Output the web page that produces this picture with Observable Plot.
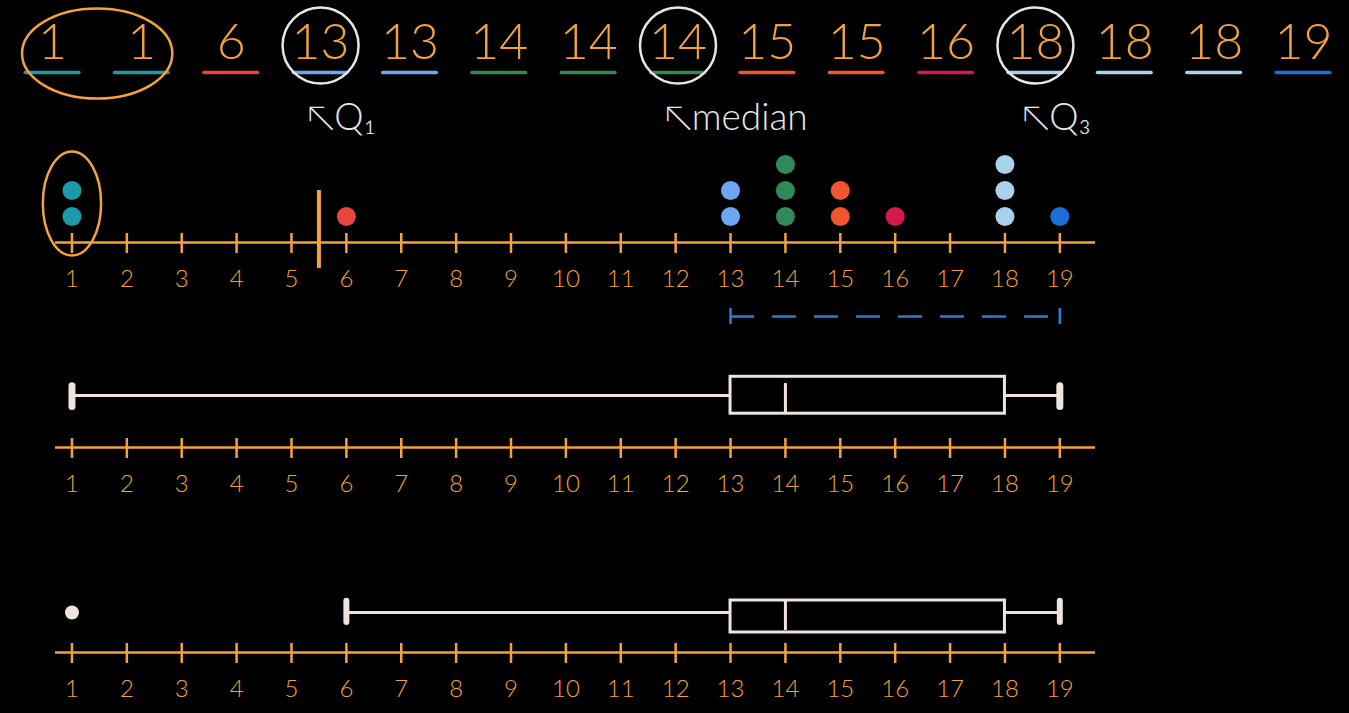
<!DOCTYPE html>
<html>
<head>
<meta charset="utf-8">
<script src="https://cdn.jsdelivr.net/npm/d3@7"></script>
<script src="https://cdn.jsdelivr.net/npm/@observablehq/plot@0.6"></script>
<style>
  html, body { margin: 0; padding: 0; background: #000; width: 1349px; height: 713px; overflow: hidden; }
  #chart svg { display: block; }
</style>
</head>
<body>
<div id="chart"></div>
<script>
// ---------------- data ----------------
const sortedValues = [1, 1, 6, 13, 13, 14, 14, 14, 15, 15, 16, 18, 18, 18, 19];
const tickLabels = [1, 2, 3, 4, 5, 6, 7, 8, 9, 10, 11, 12, 13, 14, 15, 16, 17, 18, 19];
const colorValues = [1, 6, 13, 14, 15, 16, 18, 19];
const colorPalette = ["#1d9aa8", "#e8453f", "#6ea6f2", "#2f8a58", "#f2562c", "#d4194e", "#a8d2ec", "#1b6fd6"];
const markerLabels = ["↖Q₁", "↖median", "↖Q₃"];

// ---------------- statistics derived from the data ----------------
const n = sortedValues.length;
const medianOf = a => a.length % 2 ? a[(a.length - 1) / 2] : (a[a.length / 2 - 1] + a[a.length / 2]) / 2;
const mid = Math.floor(n / 2);
const lowerHalf = sortedValues.slice(0, mid);
const upperHalf = sortedValues.slice(n % 2 ? mid + 1 : mid);
const q1 = medianOf(lowerHalf), med = medianOf(sortedValues), q3 = medianOf(upperHalf);
const q1Index = (lowerHalf.length - 1) / 2;
const medIndex = mid;
const q3Index = (n % 2 ? mid + 1 : mid) + (upperHalf.length - 1) / 2;
const iqr = q3 - q1;
const lowerFence = q1 - 1.5 * iqr, upperFence = q3 + 1.5 * iqr;
const minV = d3.min(sortedValues), maxV = d3.max(sortedValues);
const inliers = sortedValues.filter(v => v >= lowerFence && v <= upperFence);
const whiskerLow = d3.min(inliers), whiskerHigh = d3.max(inliers);
const outlierValues = Array.from(new Set(sortedValues.filter(v => v < lowerFence || v > upperFence)));
const outlierIdx = sortedValues.map((v, i) => (v < lowerFence || v > upperFence) ? i : null).filter(i => i !== null);

const rows = sortedValues.map((v, i) => ({i, v}));
const counts = {};
const dots = sortedValues.map(v => ({v, k: (counts[v] = (counts[v] || 0) + 1)}));
const outlierGroups = outlierValues.map(v => ({v, k: (counts[v] + 1) / 2}));
const markers = [q1Index, medIndex, q3Index].map((i, j) => ({i, label: markerLabels[j]}));

// ---------------- styling ----------------
const W = 1349;
const ORANGE = "#f3a23e";
const CREAM = "#efe4dd";
const WHITE = "#e6e6e6";
const BLUE = "#2b7fd4";
const FONT = "Lato, 'Open Sans', 'DejaVu Sans', sans-serif";
const baseStyle = {background: "transparent", overflow: "visible", fontFamily: FONT};
const colorScale = {type: "ordinal", domain: colorValues, range: colorPalette};
const xScale = {domain: [0.7, 19.65], axis: null};

// ellipse symbol (ratio = rx / ry)
const ellipse = ratio => ({
  draw(ctx, size) {
    const ry = Math.sqrt(size / Math.PI), rx = ry * ratio, k = 0.5523;
    ctx.moveTo(rx, 0);
    ctx.bezierCurveTo(rx, k * ry, k * rx, ry, 0, ry);
    ctx.bezierCurveTo(-k * rx, ry, -rx, k * ry, -rx, 0);
    ctx.bezierCurveTo(-rx, -k * ry, -k * rx, -ry, 0, -ry);
    ctx.bezierCurveTo(k * rx, -ry, rx, -k * ry, rx, 0);
    ctx.closePath();
  }
});

const numberLine = () => [
  Plot.ruleY([0], {stroke: ORANGE, strokeWidth: 2.5}),
  Plot.ruleX(tickLabels, {x: d => d, y1: 0, y2: 0, insetTop: -9, insetBottom: -11, stroke: ORANGE, strokeWidth: 2.5}),
  Plot.text(tickLabels, {x: d => d, y: 0, dy: 37, text: d => String(d), fill: ORANGE, fontSize: 24, fontWeight: 300})
];

// ---------------- panel A: sorted list ----------------
const panelA = Plot.plot({
  width: W, height: 150,
  marginTop: 0, marginBottom: 78, marginLeft: 52, marginRight: 46,
  x: {domain: [0, n - 1], axis: null},
  y: {domain: [0, 1], axis: null},
  color: colorScale,
  style: baseStyle,
  marks: [
    Plot.text(rows, {x: "i", y: 0, dy: -30, text: d => String(d.v), fill: ORANGE, fontSize: 50, fontWeight: 300}),
    Plot.ruleY(rows, {y: () => 0, x1: d => d.i - 0.3, x2: d => d.i + 0.3, stroke: "v", strokeWidth: 3.5, strokeLinecap: "round"}),
    Plot.dot(markers, {x: "i", y: 0, dy: -27, r: 38, stroke: WHITE, strokeWidth: 2.5, fill: "none"}),
    Plot.dot([d3.mean(outlierIdx)], {x: d => d, y: 0, dy: -19, r: 45, symbol: ellipse(1.67), stroke: ORANGE, strokeWidth: 2.5, fill: "none"}),
    Plot.text(markers, {x: "i", y: 0, dx: -14, dy: 46, text: "label", textAnchor: "start", fill: WHITE, fontSize: 37, fontWeight: 300})
  ]
});

// ---------------- panel B: dot plot ----------------
const panelB = Plot.plot({
  width: W, height: 180,
  marginTop: 14, marginBottom: 88, marginLeft: 55, marginRight: 254,
  x: xScale,
  y: {domain: [0, 3], axis: null},
  color: colorScale,
  style: baseStyle,
  marks: [
    ...numberLine(),
    Plot.dot(dots, {x: "v", y: "k", r: 9.5, fill: "v"}),
    Plot.dot(outlierGroups, {x: "v", y: "k", r: 52, symbol: ellipse(0.56), stroke: ORANGE, strokeWidth: 2.5, fill: "none"}),
    Plot.ruleX([lowerFence], {x: d => d, y1: -1, y2: 2, stroke: ORANGE, strokeWidth: 4}),
    Plot.ruleY([0], {x1: q1, x2: maxV, dy: 74, stroke: BLUE, strokeWidth: 2.5, strokeDasharray: "24 18"}),
    Plot.ruleX([q1, maxV], {x: d => d, y1: 0, y2: 0, dy: 74, insetTop: -8, insetBottom: -8, stroke: BLUE, strokeWidth: 2.5})
  ]
});

// ---------------- panel C: box plot, whiskers to min / max ----------------
const panelC = Plot.plot({
  width: W, height: 190,
  marginTop: 65, marginBottom: 73, marginLeft: 55, marginRight: 254,
  x: xScale,
  y: {domain: [0, 1], axis: null},
  style: baseStyle,
  marks: [
    ...numberLine(),
    Plot.ruleY([1], {x1: minV, x2: q1, stroke: CREAM, strokeWidth: 3}),
    Plot.ruleY([1], {x1: q3, x2: maxV, stroke: CREAM, strokeWidth: 3}),
    Plot.rect([0], {x1: q1, x2: q3, y1: 0.65, y2: 1.36, stroke: CREAM, strokeWidth: 3, fill: "none"}),
    Plot.ruleX([med], {x: d => d, y1: 0.67, y2: 1.23, stroke: CREAM, strokeWidth: 3}),
    Plot.ruleX([minV, maxV], {x: d => d, y1: 0.78, y2: 1.18, stroke: CREAM, strokeWidth: 7, strokeLinecap: "round"})
  ]
});

// ---------------- panel D: box plot with outlier ----------------
const panelD = Plot.plot({
  width: W, height: 193,
  marginTop: 92, marginBottom: 61, marginLeft: 55, marginRight: 254,
  x: xScale,
  y: {domain: [0, 1], axis: null},
  style: baseStyle,
  marks: [
    ...numberLine(),
    Plot.ruleY([1], {x1: whiskerLow, x2: q1, stroke: CREAM, strokeWidth: 3}),
    Plot.ruleY([1], {x1: q3, x2: whiskerHigh, stroke: CREAM, strokeWidth: 3}),
    Plot.rect([0], {x1: q1, x2: q3, y1: 0.5, y2: 1.3, stroke: CREAM, strokeWidth: 3, fill: "none"}),
    Plot.ruleX([med], {x: d => d, y1: 0.55, y2: 1.28, stroke: CREAM, strokeWidth: 3}),
    Plot.ruleX([whiskerLow, whiskerHigh], {x: d => d, y1: 0.75, y2: 1.28, stroke: CREAM, strokeWidth: 6, strokeLinecap: "round"}),
    Plot.dot(outlierValues, {x: d => d, y: 1, r: 7, fill: CREAM})
  ]
});

const chart = document.getElementById("chart");
[panelA, panelB, panelC, panelD].forEach(p => chart.appendChild(p));
</script>
</body>
</html>
